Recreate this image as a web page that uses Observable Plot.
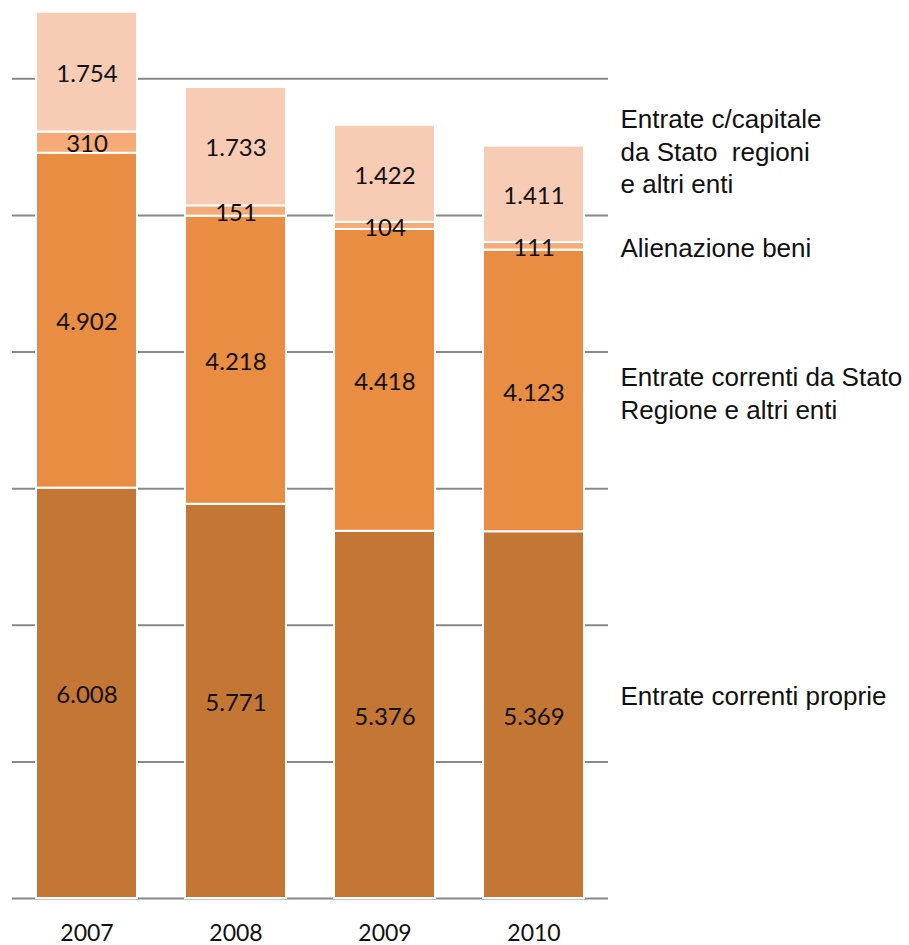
<!DOCTYPE html>
<html>
<head>
<meta charset="utf-8">
<script src="https://cdn.jsdelivr.net/npm/d3@7"></script>
<script src="https://cdn.jsdelivr.net/npm/@observablehq/plot@0.6"></script>
<style>
  html, body { margin: 0; padding: 0; background: #fff; }
  #chart svg { display: block; }
</style>
</head>
<body>
<div id="chart"></div>
<script>
// ---- Data ----
const years = ["2007", "2008", "2009", "2010"];
const seriesNames = [
  "Entrate correnti proprie",
  "Entrate correnti da Stato\nRegione e altri enti",
  "Alienazione beni",
  "Entrate c/capitale\nda Stato  regioni\ne altri enti"
];
const entrateCorrentiProprie = [6008, 5771, 5376, 5369];
const entrateCorrentiStato   = [4902, 4218, 4418, 4123];
const alienazioneBeni        = [310, 151, 104, 111];
const entrateCapitale        = [1754, 1733, 1422, 1411];
const gridTicks = [0, 2000, 4000, 6000, 8000, 10000, 12000];
const seriesColors = ["#C47634", "#E88D42", "#F6AA78", "#F8CBB5"];

// ---- Build table ----
const seriesValues = [entrateCorrentiProprie, entrateCorrentiStato, alienazioneBeni, entrateCapitale];
const table = [];
seriesNames.forEach((s, i) => {
  years.forEach((y, j) => table.push({ year: y, series: s, value: seriesValues[i][j] }));
});

const itFormat = d3.formatLocale({ decimal: ",", thousands: ".", grouping: [3], currency: ["€", ""] }).format(",d");

// right-side labels, vertical anchor in data units (layout)
const legendAnchors = [2990, 7415, 9545, 10950];
const legendRows = seriesNames.map((s, i) => ({ label: s, at: legendAnchors[i] }));

const chart = Plot.plot({
  width: 909,
  height: 945,
  marginLeft: 12,
  marginRight: 301,
  marginTop: 10,
  marginBottom: 47,
  style: { background: "#fff", overflow: "visible" },
  x: { domain: years, paddingInner: 0.323, paddingOuter: 0.153, label: null },
  y: { domain: [0, 13000], axis: null },
  color: { domain: seriesNames, range: seriesColors },
  marks: [
    Plot.ruleY(gridTicks, { stroke: "#888888", strokeWidth: 2 }),
    Plot.barY(table, {
      x: "year", y: "value", fill: "series", order: seriesNames,
      stroke: "#ffffff", strokeWidth: 2
    }),
    Plot.text(table, Plot.stackY({
      x: "year", y: "value", z: "series", order: seriesNames,
      text: d => itFormat(d.value),
      fontFamily: "Lato, 'Open Sans', sans-serif", fontSize: 24, fill: "#111", dy: 2
    })),
    Plot.axisX({
      tickSize: 0, tickPadding: 26, fontSize: 23,
      fontFamily: "Lato, 'Open Sans', sans-serif", fill: "#111", label: null
    }),
    Plot.text(legendRows, {
      y: "at", text: "label", frameAnchor: "right", dx: 12, textAnchor: "start",
      lineHeight: 1.25, fontSize: 26, fontFamily: "'Liberation Sans', Arial, sans-serif",
      fill: "#111", clip: false
    })
  ]
});
document.getElementById("chart").appendChild(chart);
</script>
</body>
</html>
